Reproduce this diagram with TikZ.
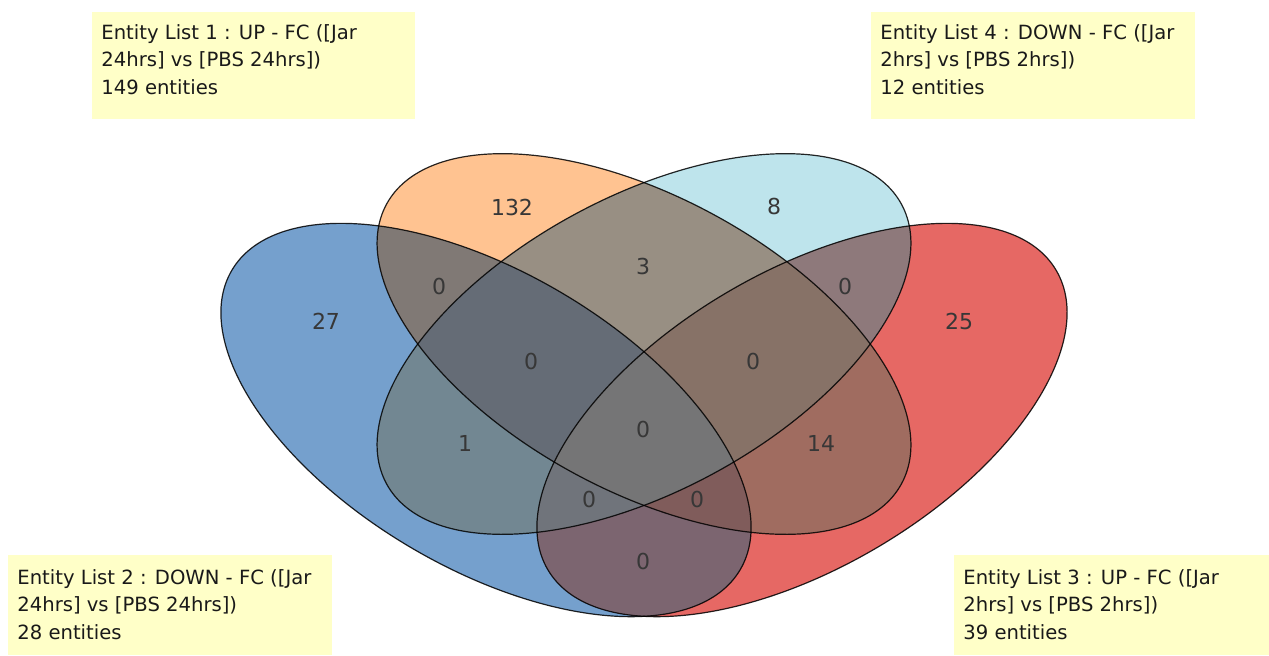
\documentclass[tikz,border=0pt]{standalone}
\usepackage{fontspec}
\setmainfont{DejaVu Sans}
\definecolor{cB}{RGB}{117,160,205}
\definecolor{cO}{RGB}{255,195,145}
\definecolor{cL}{RGB}{190,228,236}
\definecolor{cR}{RGB}{230,104,100}
\definecolor{cBO}{RGB}{128,121,117}
\definecolor{cOL}{RGB}{152,143,131}
\definecolor{cLR}{RGB}{142,121,123}
\definecolor{cBL}{RGB}{114,135,146}
\definecolor{cOR}{RGB}{160,108,96}
\definecolor{cBR}{RGB}{124,101,112}
\definecolor{cBOL}{RGB}{101,108,118}
\definecolor{cOLR}{RGB}{135,114,103}
\definecolor{cBLR}{RGB}{112,116,123}
\definecolor{cBOR}{RGB}{128,92,91}
\definecolor{cAll}{RGB}{117,117,118}
\definecolor{boxfill}{RGB}{255,255,200}
\definecolor{numgray}{RGB}{55,55,55}
\definecolor{txt}{RGB}{25,25,25}
\newcommand\pB{(486,420) ellipse [x radius=295, y radius=148]}
\newcommand\pR{(802,420) ellipse [x radius=295, y radius=148]}
\newcommand\pO{(644,344) ellipse [x radius=293, y radius=147]}
\newcommand\pL{(644,344) ellipse [x radius=293, y radius=147]}
\newcommand\whole{(0,0) rectangle (1269,655)}
\tikzset{
  rB/.style={rotate around={-30.5:(486,420)}},
  rR/.style={rotate around={30.5:(802,420)}},
  rO/.style={rotate around={-28.5:(644,344)}},
  rL/.style={rotate around={28.5:(644,344)}},
  num/.style={font=\fontsize{11}{13}\selectfont, text=numgray, inner sep=0pt},
  boxtxt/.style={font=\fontsize{9.8}{13}\selectfont, text=txt, inner sep=0pt, anchor=base west},
  outline/.style={draw=black, line width=0.6pt, draw opacity=0.85}
}
\begin{document}
\begin{tikzpicture}[x=0.5pt,y=-0.5pt]
\useasboundingbox \whole;
\fill[white] \whole;
% single sets
\fill[cB, rB] \pB;
\fill[cR, rR] \pR;
\fill[cO, rO] \pO;
\fill[cL, rL] \pL;
% pairs
\begin{scope}\clip[rB] \pB; \clip[rO] \pO; \fill[cBO] \whole; \end{scope}
\begin{scope}\clip[rB] \pB; \clip[rL] \pL; \fill[cBL] \whole; \end{scope}
\begin{scope}\clip[rB] \pB; \clip[rR] \pR; \fill[cBR] \whole; \end{scope}
\begin{scope}\clip[rO] \pO; \clip[rL] \pL; \fill[cOL] \whole; \end{scope}
\begin{scope}\clip[rO] \pO; \clip[rR] \pR; \fill[cOR] \whole; \end{scope}
\begin{scope}\clip[rL] \pL; \clip[rR] \pR; \fill[cLR] \whole; \end{scope}
% triples
\begin{scope}\clip[rB] \pB; \clip[rO] \pO; \clip[rL] \pL; \fill[cBOL] \whole; \end{scope}
\begin{scope}\clip[rB] \pB; \clip[rO] \pO; \clip[rR] \pR; \fill[cBOR] \whole; \end{scope}
\begin{scope}\clip[rB] \pB; \clip[rL] \pL; \clip[rR] \pR; \fill[cBLR] \whole; \end{scope}
\begin{scope}\clip[rO] \pO; \clip[rL] \pL; \clip[rR] \pR; \fill[cOLR] \whole; \end{scope}
% all four
\begin{scope}\clip[rB] \pB; \clip[rO] \pO; \clip[rL] \pL; \clip[rR] \pR; \fill[cAll] \whole; \end{scope}
% outlines
\draw[outline, rB] \pB;
\draw[outline, rR] \pR;
\draw[outline, rO] \pO;
\draw[outline, rL] \pL;
% counts
\node[num] (n132) at (512,207) {132};
\node[num] (n8) at (774,206) {8};
\node[num] (n27) at (326,321) {27};
\node[num] (n25) at (959,321) {25};
\node[num] (nBO) at (439,286) {0};
\node[num] (nOL) at (643,266) {3};
\node[num] (nLR) at (845,286) {0};
\node[num] (nBOL) at (531,361) {0};
\node[num] (nOLR) at (753,361) {0};
\node[num] (nBL) at (465,443) {1};
\node[num] (nAll) at (643,429) {0};
\node[num] (nOR) at (821,443) {14};
\node[num] (nBLR) at (589,499) {0};
\node[num] (nBOR) at (697,499) {0};
\node[num] (nBR) at (643,561) {0};
% boxes
\fill[boxfill] (92,12) rectangle (415,119);
\fill[boxfill] (871,12) rectangle (1195,119);
\fill[boxfill] (8,555) rectangle (332,655);
\fill[boxfill] (954,555) rectangle (1269,655);
\node[boxtxt] (l1a) at (101,39) {Entity List 1 : UP - FC ([Jar};
\node[boxtxt] (l1b) at (101,66.5) {24hrs] vs [PBS 24hrs])};
\node[boxtxt] (l1c) at (101,94) {149 entities};
\node[boxtxt] (l4a) at (880,39) {Entity List 4 : DOWN - FC ([Jar};
\node[boxtxt] (l4b) at (880,66.5) {2hrs] vs [PBS 2hrs])};
\node[boxtxt] (l4c) at (880,94) {12 entities};
\node[boxtxt] (l2a) at (17,584) {Entity List 2 : DOWN - FC ([Jar};
\node[boxtxt] (l2b) at (17,611.5) {24hrs] vs [PBS 24hrs])};
\node[boxtxt] (l2c) at (17,639) {28 entities};
\node[boxtxt] (l3a) at (963,584) {Entity List 3 : UP - FC ([Jar};
\node[boxtxt] (l3b) at (963,611.5) {2hrs] vs [PBS 2hrs])};
\node[boxtxt] (l3c) at (963,639) {39 entities};
\end{tikzpicture}
\end{document}
